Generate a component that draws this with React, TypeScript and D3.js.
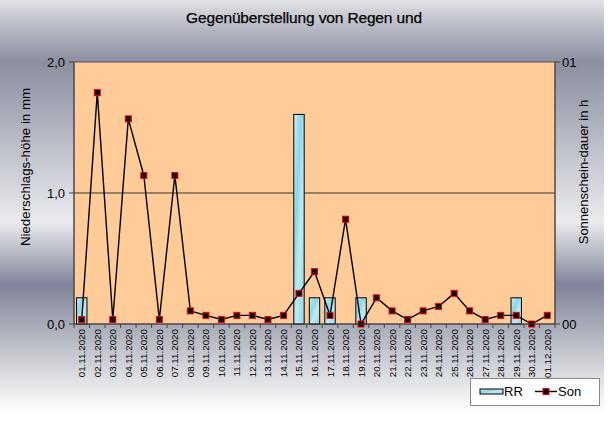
import React from "react";
import * as d3 from "d3";

const categories = [
  "01.11.2020","02.11.2020","03.11.2020","04.11.2020","05.11.2020","06.11.2020","07.11.2020",
  "08.11.2020","09.11.2020","10.11.2020","11.11.2020","12.11.2020","13.11.2020","14.11.2020",
  "15.11.2020","16.11.2020","17.11.2020","18.11.2020","19.11.2020","20.11.2020","21.11.2020",
  "22.11.2020","23.11.2020","24.11.2020","25.11.2020","26.11.2020","27.11.2020","28.11.2020",
  "29.11.2020","30.11.2020","01.12.2020"
];
const rrValues = [
  0.2, 0, 0, 0, 0, 0, 0,
  0, 0, 0, 0, 0, 0, 0,
  1.6, 0.2, 0.2, 0, 0.2, 0, 0,
  0, 0, 0, 0, 0, 0, 0,
  0.2, 0, 0
];
const sonValues = [
  0.17, 8.83, 0.17, 7.83, 5.67, 0.17, 5.67,
  0.5, 0.33, 0.17, 0.33, 0.33, 0.17, 0.33,
  1.17, 2.0, 0.33, 4.0, 0, 1.0, 0.5,
  0.17, 0.5, 0.67, 1.17, 0.5, 0.17, 0.33,
  0.33, 0, 0.33
];
const leftTicks = [0, 1, 2];
const leftTickLabels = ["0,0", "1,0", "2,0"];
const rightTicks = [0, 10];
const rightTickLabels = ["00", "01"];
const title = "Gegenüberstellung von Regen und";
const leftAxisTitle = "Niederschlags-höhe in mm";
const rightAxisTitle = "Sonnenschein-dauer in h";
const seriesNames = ["RR", "Son"];

const W = 614, H = 430;
const plot = { left: 74, right: 555, top: 62, bottom: 324 };
const FONT = "'Liberation Sans', Arial, sans-serif";

export default function App() {
  const x = d3.scaleBand<string>().domain(categories).range([plot.left, plot.right]).paddingInner(0).paddingOuter(0);
  const yL = d3.scaleLinear().domain([0, 2]).range([plot.bottom, plot.top]);
  const yR = d3.scaleLinear().domain([0, 10]).range([plot.bottom, plot.top]);
  const bw = x.bandwidth();
  const barW = bw * 0.67;
  const line = d3.line<number>()
    .x((_, i) => (x(categories[i]) as number) + bw / 2)
    .y((d) => yR(d));

  const bgStops: [number, string][] = [
    [0, "#e2e3e6"], [25, "#babcc6"], [62, "#8b8fa0"], [110, "#a6a9b6"], [165, "#c9cbd3"],
    [222, "#ebebee"], [248, "#bfc1ca"], [285, "#80849a"], [325, "#a8abb7"], [370, "#d6d7dc"],
    [400, "#f4f4f5"], [415, "#ffffff"]
  ];

  return (
    <svg width={W} height={H} style={{ position: "absolute", left: 0, top: 0 }} fontFamily={FONT}>
      <defs>
        <linearGradient id="bg" x1="0" y1="0" x2="0" y2={H} gradientUnits="userSpaceOnUse">
          {bgStops.map(([o, c], i) => (
            <stop key={i} offset={o / H} stopColor={c} />
          ))}
        </linearGradient>
        <linearGradient id="barfill" x1="0" y1="0" x2="1" y2="1">
          <stop offset="0" stopColor="#c8f0f6" />
          <stop offset="0.35" stopColor="#8fd6e6" />
          <stop offset="0.6" stopColor="#bdeaf3" />
          <stop offset="1" stopColor="#95d9e8" />
        </linearGradient>
      </defs>
      <rect x={0} y={0} width={W} height={H} fill="#ffffff" />
      <rect x={0} y={0} width={604} height={H} fill="url(#bg)" />

      <text x={304} y={23} textAnchor="middle" fontSize={15.5} fill="#000" fontWeight={500} letterSpacing={-0.15} stroke="#000" strokeWidth={0.25}>{title}</text>

      {/* plot area */}
      <rect x={plot.left} y={plot.top} width={plot.right - plot.left} height={plot.bottom - plot.top} fill="#ffcc99" stroke="#555" strokeWidth={1} />
      {leftTicks.filter((t) => t !== 0 && t !== 2).map((t) => (
        <line key={t} x1={plot.left} x2={plot.right} y1={yL(t)} y2={yL(t)} stroke="#333" strokeWidth={1} />
      ))}

      {/* bars */}
      {rrValues.map((v, i) =>
        v > 0 ? (
          <rect key={i} x={(x(categories[i]) as number) + (bw - barW) / 2} y={yL(v)} width={barW} height={yL(0) - yL(v)}
            fill="url(#barfill)" stroke="#000" strokeWidth={1} />
        ) : null
      )}

      {/* line */}
      <path d={line(sonValues) || ""} fill="none" stroke="#000" strokeWidth={1.4} />
      {sonValues.map((v, i) => (
        <rect key={i} x={(x(categories[i]) as number) + bw / 2 - 3} y={yR(v) - 3} width={6} height={6}
          fill="#000" stroke="#ff0000" strokeWidth={1} />
      ))}

      {/* axes */}
      <line x1={plot.left} x2={plot.left} y1={plot.top} y2={plot.bottom} stroke="#444" />
      <line x1={plot.right} x2={plot.right} y1={plot.top} y2={plot.bottom} stroke="#444" />
      <line x1={plot.left} x2={plot.right} y1={plot.bottom} y2={plot.bottom} stroke="#444" />
      {leftTicks.map((t, i) => (
        <g key={t}>
          <line x1={plot.left - 5} x2={plot.left} y1={yL(t)} y2={yL(t)} stroke="#444" />
          <text x={plot.left - 9} y={yL(t) + 4.5} textAnchor="end" fontSize={13} fill="#000">{leftTickLabels[i]}</text>
        </g>
      ))}
      {rightTicks.map((t, i) => (
        <g key={t}>
          <line x1={plot.right} x2={plot.right + 5} y1={yR(t)} y2={yR(t)} stroke="#444" />
          <text x={plot.right + 7} y={yR(t) + 4.5} textAnchor="start" fontSize={13} fill="#000">{rightTickLabels[i]}</text>
        </g>
      ))}
      {categories.map((c, i) => (
        <line key={"t" + i} x1={x(c) as number} x2={x(c) as number} y1={plot.bottom} y2={plot.bottom + 4} stroke="#444" />
      ))}
      <line x1={plot.right} x2={plot.right} y1={plot.bottom} y2={plot.bottom + 4} stroke="#444" />
      {categories.map((c) => {
        const cx = (x(c) as number) + bw / 2 + 3.5;
        return (
          <text key={c} transform={`translate(${cx},${plot.bottom + 5}) rotate(-90)`} textAnchor="end" fontSize={9.8} fill="#000">{c}</text>
        );
      })}

      <text transform={`translate(30,167) rotate(-90)`} textAnchor="middle" fontSize={13.3} fill="#000">{leftAxisTitle}</text>
      <text transform={`translate(588,172) rotate(-90)`} textAnchor="middle" fontSize={13} fill="#000">{rightAxisTitle}</text>

      {/* legend */}
      <rect x={470.5} y={378.5} width={129} height={27} fill="#ffffff" stroke="#888" strokeWidth={1} />
      <rect x={480} y={389} width={23} height={5} fill="url(#barfill)" stroke="#000" strokeWidth={1} />
      <text x={504} y={396} fontSize={13} fill="#000">{seriesNames[0]}</text>
      <line x1={535} x2={557} y1={391.5} y2={391.5} stroke="#000" strokeWidth={1.4} />
      <rect x={543} y={388.5} width={6} height={6} fill="#000" stroke="#ff0000" strokeWidth={1} />
      <text x={558} y={396} fontSize={13} fill="#000">{seriesNames[1]}</text>
    </svg>
  );
}
